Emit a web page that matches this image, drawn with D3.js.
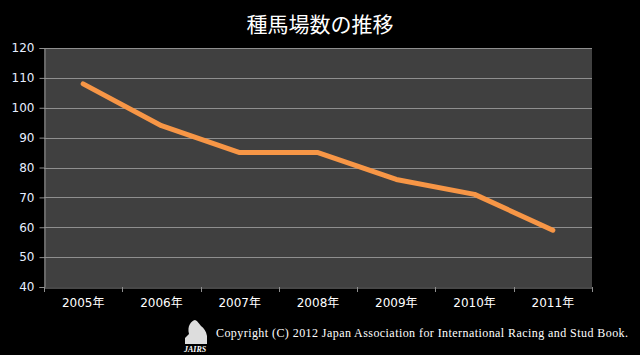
<!DOCTYPE html>
<html><head><meta charset="utf-8">
<script src="https://cdn.jsdelivr.net/npm/d3@7"></script>
<style>
html,body{margin:0;padding:0;background:#000;}
svg{display:block;}
</style></head>
<body>
<script>
const categories = ["2005年","2006年","2007年","2008年","2009年","2010年","2011年"];
const values = [108, 94, 85, 85, 76, 71, 59];
const yTicks = [40, 50, 60, 70, 80, 90, 100, 110, 120];
const title = "種馬場数の推移";
const copyright = "Copyright (C) 2012 Japan Association for International Racing and Stud Book.";

const W = 640, H = 355;
const plot = {left: 44, right: 592, top: 48, bottom: 287};

const svg = d3.select("body").append("svg").attr("width", W).attr("height", H)
  .style("background", "#000");

const x = d3.scaleBand().domain(categories).range([plot.left, plot.right]).padding(0);
const y = d3.scaleLinear().domain([40, 120]).range([plot.bottom, plot.top]);

svg.append("rect").attr("x", plot.left).attr("y", plot.top)
  .attr("width", plot.right - plot.left).attr("height", plot.bottom - plot.top)
  .attr("fill", "#404040");

// grid
svg.append("g").selectAll("line").data(yTicks.filter(d => d > 40)).join("line")
  .attr("x1", plot.left).attr("x2", plot.right)
  .attr("y1", d => Math.round(y(d)) + 0.5).attr("y2", d => Math.round(y(d)) + 0.5)
  .attr("stroke", "#8f8f8f").attr("stroke-width", 1);

// y axis
const yAxis = svg.append("g").attr("transform", `translate(${plot.left + 0.5},0)`)
  .call(d3.axisLeft(y).tickValues(yTicks).tickSize(5).tickPadding(5));
yAxis.select(".domain").attr("stroke", "#8f8f8f");
yAxis.selectAll(".tick line").attr("stroke", "#8f8f8f");
yAxis.selectAll(".tick text").attr("fill", "#e6eeff")
  .style("font-family", "'DejaVu Sans', sans-serif").style("font-size", "12px");

// x axis
const xAxis = svg.append("g").attr("transform", `translate(0,${plot.bottom + 0.5})`)
  .call(d3.axisBottom(x).tickSize(0).tickPadding(11));
xAxis.select(".domain").attr("stroke", "#8f8f8f");
xAxis.selectAll(".tick text").attr("fill", "#ffffff")
  .style("font-family", "'DejaVu Sans', 'Noto Sans CJK JP', sans-serif").style("font-size", "12px");
// boundary ticks
const bounds = categories.map(c => x(c)).concat([plot.right]);
svg.append("g").selectAll("line").data(bounds).join("line")
  .attr("x1", d => Math.round(d) + 0.5).attr("x2", d => Math.round(d) + 0.5)
  .attr("y1", plot.bottom).attr("y2", plot.bottom + 5)
  .attr("stroke", "#8f8f8f");

// line
const line = d3.line().x((d, i) => x(categories[i]) + x.bandwidth() / 2).y(d => y(d));
svg.append("path").datum(values).attr("d", line)
  .attr("fill", "none").attr("stroke", "#f79646").attr("stroke-width", 5)
  .attr("stroke-linecap", "round").attr("stroke-linejoin", "round");

// title
svg.append("text").attr("x", 320).attr("y", 32).attr("text-anchor", "middle")
  .attr("fill", "#fff").style("font-family", "'Noto Sans CJK JP', sans-serif")
  .style("font-size", "21px").text(title);

// logo approx
const logo = svg.append("g").attr("transform", "translate(181,320)");
logo.append("path").attr("d", "M8,14 C6,6 10,1 14,0 C17,1 18,4 20,6 C23,8 25,11 26,16 L26,24 L4,24 L4,18 Z")
  .attr("fill", "#ddd");
logo.append("text").attr("x", 3).attr("y", 32).attr("fill", "#fff")
  .style("font-family", "'Liberation Serif', serif").style("font-style", "italic")
  .style("font-weight", "bold").style("font-size", "8px").text("JAIRS");

// copyright
svg.append("text").attr("x", 216).attr("y", 337).attr("fill", "#fff")
  .attr("textLength", 412)
  .style("font-family", "'Liberation Serif', 'DejaVu Serif', serif").style("font-size", "12px")
  .text(copyright);
</script>
</body></html>
